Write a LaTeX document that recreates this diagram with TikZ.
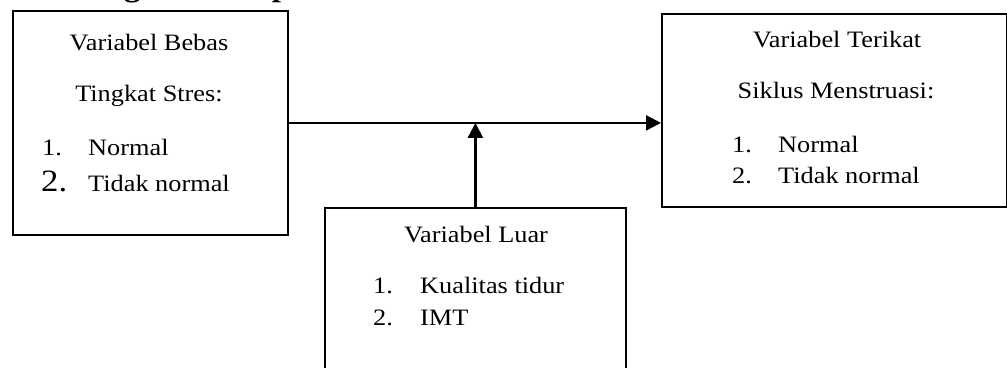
\documentclass[tikz,border=0pt]{standalone}
\usepackage{fontspec}
\setmainfont{Liberation Serif}[FakeStretch=1.12]
\usetikzlibrary{arrows.meta}
\begin{document}
\begin{tikzpicture}[x=1pt,y=-1pt,
  box/.style={draw, line width=1.8pt, anchor=north west, inner sep=0pt},
  txt/.style={anchor=base, inner sep=0pt, font=\fontsize{23.5}{28}\selectfont},
  num/.style={anchor=base west, inner sep=0pt, font=\fontsize{23.5}{28}\selectfont},
  bignum/.style={anchor=base west, inner sep=0pt, font=\fontsize{31}{36}\selectfont},
  link/.style={line width=2.2pt, -{Triangle[length=15pt,width=15pt]}}]
\useasboundingbox (0,0) rectangle (1007,367);
\clip (0,0) rectangle (1007,367);

% heading of the section, running above the frame
\node[anchor=base west, inner sep=0pt, font=\fontsize{29.5}{34}\selectfont\bfseries] (judul) at (34,-3.5) {Kerangka Konsep};

% the three boxes
\node[box, minimum width=275pt, minimum height=224pt] (bebas) at (12,10) {};
\node[box, minimum width=345pt, minimum height=193pt] (terikat) at (661,13) {};
\node[box, minimum width=301pt, minimum height=200pt] (luar) at (324,207) {};

% connectors
\coordinate (join) at (bebas.east -| luar.north);
\draw[link] (bebas.east) -- (bebas.east -| terikat.west);
\draw[link] (luar.north) -- (join);

% independent variable
\node[txt] (bebasJ) at (149,50) {Variabel Bebas};
\node[txt] (stres) at (149,101) {Tingkat Stres:};
\node[num] (b1n) at (42,155) {1.};
\node[num] (b1) at (88,155) {Normal};
\node[bignum] (b2n) at (41,191) {2.};
\node[num] (b2) at (88,191) {Tidak normal};

% dependent variable
\node[txt] (terikatJ) at (837,47) {Variabel Terikat};
\node[txt] (siklus) at (836,98) {Siklus Menstruasi:};
\node[num] (t1n) at (732,152) {1.};
\node[num] (t1) at (778,152) {Normal};
\node[num] (t2n) at (732,183) {2.};
\node[num] (t2) at (778,183) {Tidak normal};

% confounding variables
\node[txt] (luarJ) at (476,242) {Variabel Luar};
\node[num] (l1n) at (373,293) {1.};
\node[num] (l1) at (420,293) {Kualitas tidur};
\node[num] (l2n) at (373,325) {2.};
\node[num] (l2) at (420,325) {IMT};
\end{tikzpicture}
\end{document}
